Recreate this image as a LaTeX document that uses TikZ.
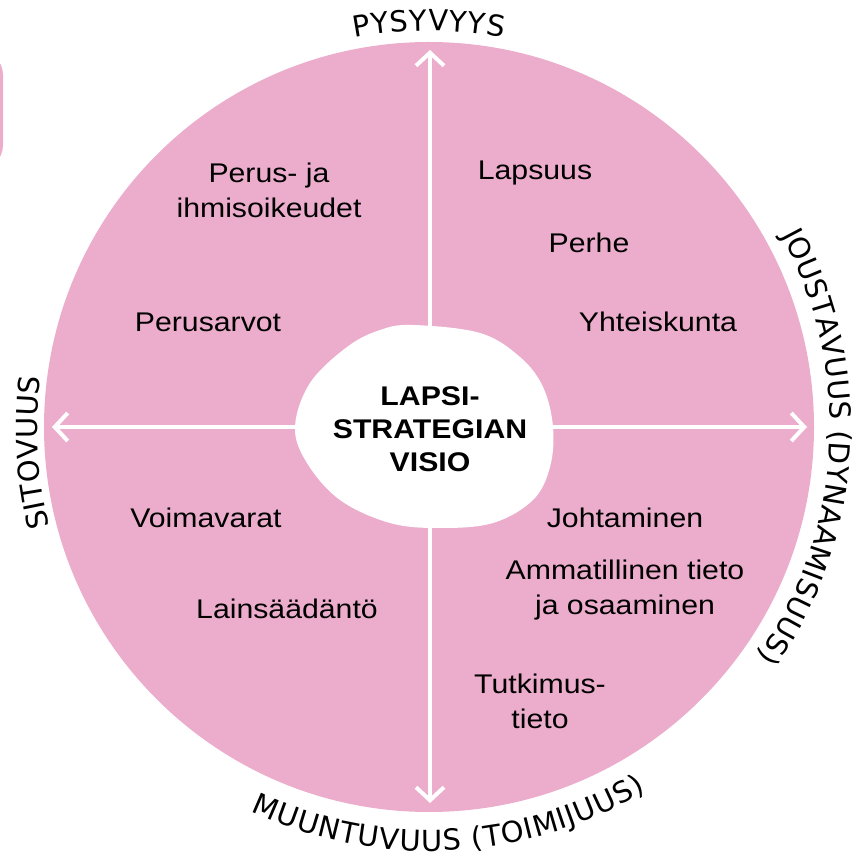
\documentclass[tikz,border=0pt]{standalone}
\usepackage{fontspec}
\setmainfont[FakeStretch=1.12]{Liberation Sans}
\newfontfamily\labelfont{DejaVu Sans}
\usetikzlibrary{arrows.meta,decorations.text}
\definecolor{rosa}{HTML}{ECADCC}
\begin{document}
\begin{tikzpicture}[x=1pt,y=1pt,
  item/.style={font=\fontsize{27}{35}\selectfont, align=center, text=black, inner sep=0pt},
  core/.style={font=\fontsize{27}{33}\selectfont\bfseries, align=center, text=black, inner sep=0pt},
  axisline/.style={draw=white, line width=4pt,
    {Straight Barb[length=13pt,width=28pt]}-{Straight Barb[length=13pt,width=28pt]}},
  arclabel/.style={decorate, decoration={text along path, text align=fit to path,
    text={|\labelfont\fontsize{29}{29}\selectfont|#1}}}
]
\useasboundingbox (0,0) rectangle (861,857);
\begin{scope}
\clip (0,0) rectangle (861,857);
\fill[rosa, rounded corners=25pt] (-60,687) rectangle (3,807);
\end{scope}
\coordinate (c) at (429,430);
\fill[rosa] (c) circle[radius=385];
% axes
\coordinate (top) at (430,807);
\coordinate (bottom) at (430,54);
\coordinate (left) at (52,430);
\coordinate (right) at (807,430);
\draw[axisline] (bottom) -- (top);
\draw[axisline] (left) -- (right);
% central blob
\fill[white] plot[smooth cycle, tension=0.6] coordinates {
 (413,532) (480,524) (520,500) (543,470) (553,430) (550,390) (533,357) (493,334)
 (440,329) (390,334) (340,357) (307,394) (295,430) (310,474) (347,510) (380,527)};
\node[core] (visio) at (430,428) {LAPSI-\\STRATEGIAN\\VISIO};
% quadrant items
\node[item] (perus) at (269,667) {Perus- ja\\ihmisoikeudet};
\node[item] (arvot) at (208,535) {Perusarvot};
\node[item] (lapsuus) at (535,684) {Lapsuus};
\node[item] (perhe) at (589,614) {Perhe};
\node[item] (yhteis) at (658,535) {Yhteiskunta};
\node[item] (voima) at (206,339) {Voimavarat};
\node[item] (laki) at (287,248) {Lainsäädäntö};
\node[item] (johto) at (625,339) {Johtaminen};
\node[item] (amm) at (625,267) {Ammatillinen tieto\\ja osaaminen};
\node[item] (tutk) at (540,156) {Tutkimus-\\tieto};
% outer arc labels
\path[arclabel=PYSYVYYS] ([shift={(429,430)}]100.8:396) arc[start angle=100.8, end angle=79.2, radius=396];
\path[arclabel={JOUSTAVUUS (DYNAAMISUUS)}] ([shift={(429,430)}]28.6:401) arc[start angle=28.6, end angle=-35.0, radius=401];
\path[arclabel=SITOVUUS] ([shift={(429,430)}]194.7:392) arc[start angle=194.7, end angle=172.7, radius=392];
\path[arclabel={MUUNTUVUUS (TOIMIJUUS)}] ([shift={(429,430)}]245.1:424) arc[start angle=245.1, end angle=300.8, radius=424];
\end{tikzpicture}
\end{document}
